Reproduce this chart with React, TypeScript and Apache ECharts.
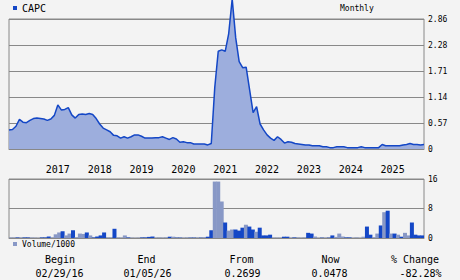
import React, { useEffect, useRef } from "react";
import * as echarts from "echarts";

// Monthly closing prices, Feb 2016 .. Jan 2026 (120 months)
const prices: number[] = [
  0.42, 0.43, 0.5, 0.65, 0.59, 0.58, 0.63, 0.67, 0.68, 0.67,
  0.66, 0.63, 0.66, 0.74, 0.97, 0.86, 0.87, 0.91, 0.75, 0.68,
  0.76, 0.77, 0.76, 0.78, 0.76, 0.67, 0.55, 0.46, 0.42, 0.38,
  0.3, 0.29, 0.24, 0.27, 0.24, 0.27, 0.31, 0.31, 0.28, 0.24,
  0.24, 0.24, 0.25, 0.25, 0.27, 0.24, 0.21, 0.25, 0.22, 0.15,
  0.16, 0.14, 0.14, 0.11, 0.11, 0.11, 0.11, 0.09, 0.12, 1.35,
  2.15, 2.18, 2.15, 2.54, 3.3, 2.45, 1.92, 1.79, 1.8, 1.3,
  0.8, 0.93, 0.55, 0.42, 0.31, 0.24, 0.19, 0.27, 0.21, 0.13,
  0.16, 0.15, 0.12, 0.11, 0.1, 0.09, 0.09, 0.07, 0.07, 0.07,
  0.05, 0.05, 0.03, 0.03, 0.05, 0.05, 0.05, 0.03, 0.03, 0.03,
  0.03, 0.05, 0.03, 0.03, 0.03, 0.03, 0.03, 0.1, 0.07, 0.07,
  0.07, 0.07, 0.07, 0.09, 0.1, 0.12, 0.1, 0.1, 0.09, 0.1,
];

// Monthly volume (thousands)
const volumes: number[] = [
  0.15, 0.15, 0.15, 0.15, 0.15, 0.15, 0.15, 0.1, 0.05, 0.15,
  0.15, 0.4, 0.15, 1.0, 1.5, 1.8, 0.7, 1.2, 2.1, 0.2,
  1.2, 1.1, 1.5, 0.7, 0.15, 0.4, 0.7, 1.5, 0.05, 0.15,
  2.5, 0.15, 0.1, 0.7, 0.15, 0.1, 0.05, 0.1, 0.15, 0.15,
  0.3, 0.4, 0.1, 0.05, 0.1, 0.05, 0.35, 0.35, 0.1, 0.1,
  0.1, 0.05, 0.1, 0.1, 0.05, 0.1, 0.25, 0.35, 2.1, 15.3,
  15.3, 9.9, 4.2, 2.0, 2.3, 2.3, 2.0, 2.8, 3.6, 3.1,
  2.3, 1.7, 2.8, 0.7, 0.7, 0.9, 0.1, 0.1, 0.1, 0.35,
  0.35, 0.1, 0.15, 0.05, 0.1, 0.05, 1.4, 1.2, 0.4, 0.05,
  0.1, 0.1, 0.1, 0.7, 0.3, 1.2, 0.4, 0.15, 0.15, 0.05,
  0.05, 0.05, 0.35, 3.1, 0.9, 0.2, 1.2, 3.4, 7.0, 7.4,
  1.2, 1.2, 0.9, 0.35, 1.4, 0.7, 4.2, 0.9, 0.7, 0.7,
];

// 1 = dark bar, 0 = light bar
const volumeUp: number[] = [
  0, 0, 1, 0, 1, 1, 0, 0, 0, 1,
  1, 1, 0, 0, 0, 1, 0, 0, 1, 0,
  0, 0, 1, 0, 1, 1, 1, 1, 1, 0,
  1, 0, 0, 0, 1, 0, 0, 0, 1, 1,
  1, 1, 0, 1, 0, 1, 1, 0, 1, 1,
  0, 1, 1, 1, 1, 1, 0, 1, 1, 0,
  0, 0, 1, 0, 0, 1, 1, 1, 0, 1,
  1, 0, 1, 1, 1, 1, 0, 0, 0, 1,
  1, 0, 1, 1, 0, 1, 1, 1, 0, 0,
  1, 0, 1, 1, 0, 0, 0, 1, 1, 0,
  1, 0, 0, 1, 1, 0, 0, 1, 0, 1,
  0, 1, 0, 1, 0, 0, 1, 1, 1, 1,
];

const yearLabels: string[] = ["2017", "2018", "2019", "2020", "2021", "2022", "2023", "2024", "2025"];
const priceTickLabels: string[] = ["0", "0.57", "1.14", "1.71", "2.28", "2.86"];
const volumeTickLabels: string[] = ["0", "8", "16"];
const statLabels: string[] = ["Begin", "End", "From", "Now", "% Change"];
const statValues: string[] = ["02/29/16", "01/05/26", "0.2699", "0.0478", "-82.28%"];

const START_YEAR = 2016;
const START_MONTH = 2;

const months: string[] = prices.map((_, i) => {
  const m = START_MONTH - 1 + i;
  const y = START_YEAR + Math.floor(m / 12);
  const mm = (m % 12) + 1;
  return `${y}-${mm < 10 ? "0" + mm : mm}`;
});

const DARK = "#1447c6";
const LIGHT = "#8898c6";
const AREA = "#9daedd";
const GRIDC = "#888888";
const MONO = "DejaVu Sans Mono";

const PRICE_MAX = 2.86;
const PRICE_STEP = PRICE_MAX / 5;

export default function App() {
  const ref = useRef<HTMLDivElement>(null);

  useEffect(() => {
    if (!ref.current) return;
    const chart = echarts.init(ref.current, null, { renderer: "svg" });

    const labelCx = [60, 146.5, 241.5, 330.5, 415];
    const valueCx = [59.5, 147.5, 242.5, 329.5, 420.5];
    const graphics: any[] = [];
    statLabels.forEach((t, i) => {
      graphics.push({
        type: "text",
        x: labelCx[i],
        y: 259,
        style: {
          text: t,
          fill: "#000",
          font: `10px '${MONO}'`,
          textAlign: "center",
          textVerticalAlign: "middle",
        },
      });
    });
    statValues.forEach((t, i) => {
      graphics.push({
        type: "text",
        x: valueCx[i],
        y: 273.5,
        style: {
          text: t,
          fill: "#000",
          font: `10px '${MONO}'`,
          textAlign: "center",
          textVerticalAlign: "middle",
        },
      });
    });

    const option: any = {
      animation: false,
      backgroundColor: "#f3f3f3",
      textStyle: { fontFamily: MONO },
      title: {
        text: "Monthly",
        left: 340,
        top: 4,
        padding: 0,
        textStyle: { fontSize: 8, fontWeight: "normal", fontFamily: MONO, color: "#000" },
      },
      legend: [
        {
          data: ["CAPC"],
          left: 13,
          top: 3,
          padding: 0,
          icon: "rect",
          itemWidth: 4,
          itemHeight: 4,
          textStyle: { fontSize: 10, fontFamily: MONO, color: "#000" },
        },
        {
          data: ["Volume/1000"],
          left: 13,
          top: 240,
          padding: 0,
          icon: "rect",
          itemWidth: 4,
          itemHeight: 4,
          textStyle: { fontSize: 8, fontFamily: MONO, color: "#000" },
        },
      ],
      grid: [
        { left: 9, top: 19, width: 415, height: 130, show: true, borderColor: GRIDC, borderWidth: 1 },
        { left: 9, top: 179, width: 415, height: 59, show: true, borderColor: GRIDC, borderWidth: 1 },
      ],
      xAxis: [
        {
          type: "category",
          gridIndex: 0,
          data: months,
          boundaryGap: false,
          axisLine: { show: true, lineStyle: { color: GRIDC } },
          axisTick: { show: false },
          splitLine: { show: false },
          axisLabel: {
            interval: (idx: number, val: string) =>
              val.endsWith("-04") && yearLabels.indexOf(val.slice(0, 4)) >= 0,
            formatter: (val: string) => val.slice(0, 4),
            fontFamily: MONO,
            fontSize: 10,
            color: "#000",
            margin: 15,
          },
        },
        {
          type: "category",
          gridIndex: 1,
          data: months,
          boundaryGap: true,
          axisLine: { show: true, lineStyle: { color: GRIDC } },
          axisTick: { show: false },
          axisLabel: { show: false },
          splitLine: { show: false },
        },
      ],
      yAxis: [
        {
          type: "value",
          gridIndex: 0,
          position: "right",
          min: 0,
          max: PRICE_MAX,
          interval: PRICE_STEP,
          axisLine: { show: false },
          axisTick: { show: false },
          splitLine: { show: true, lineStyle: { color: GRIDC, width: 1 } },
          axisLabel: {
            formatter: (v: number) => priceTickLabels[Math.round(v / PRICE_STEP)] ?? "",
            fontFamily: MONO,
            fontSize: 8,
            color: "#000",
            margin: 4,
            padding: [4, 0, 0, 0],
          },
        },
        {
          type: "value",
          gridIndex: 1,
          position: "right",
          min: 0,
          max: 16,
          interval: 8,
          axisLine: { show: false },
          axisTick: { show: false },
          splitLine: { show: true, lineStyle: { color: GRIDC, width: 1 } },
          axisLabel: {
            formatter: (v: number) => volumeTickLabels[Math.round(v / 8)] ?? "",
            fontFamily: MONO,
            fontSize: 8,
            color: "#000",
            margin: 4,
            padding: [4, 0, 0, 0],
          },
        },
      ],
      series: [
        {
          name: "CAPC",
          type: "line",
          xAxisIndex: 0,
          yAxisIndex: 0,
          data: prices,
          showSymbol: false,
          symbol: "none",
          clip: false,
          color: DARK,
          itemStyle: { color: DARK },
          lineStyle: { color: DARK, width: 1.5 },
          areaStyle: { color: AREA, opacity: 1 },
          z: 3,
        },
        {
          name: "Volume/1000",
          type: "bar",
          xAxisIndex: 1,
          yAxisIndex: 1,
          barWidth: 4,
          color: LIGHT,
          itemStyle: { color: LIGHT },
          data: volumes.map((v, i) => ({
            value: v,
            itemStyle: { color: volumeUp[i] ? DARK : LIGHT },
          })),
        },
      ],
      graphic: graphics,
    };

    chart.setOption(option);
    return () => chart.dispose();
  }, []);

  return (
    <div
      ref={ref}
      style={{ position: "fixed", left: 0, top: 0, width: 460, height: 280, background: "#f3f3f3" }}
    />
  );
}
